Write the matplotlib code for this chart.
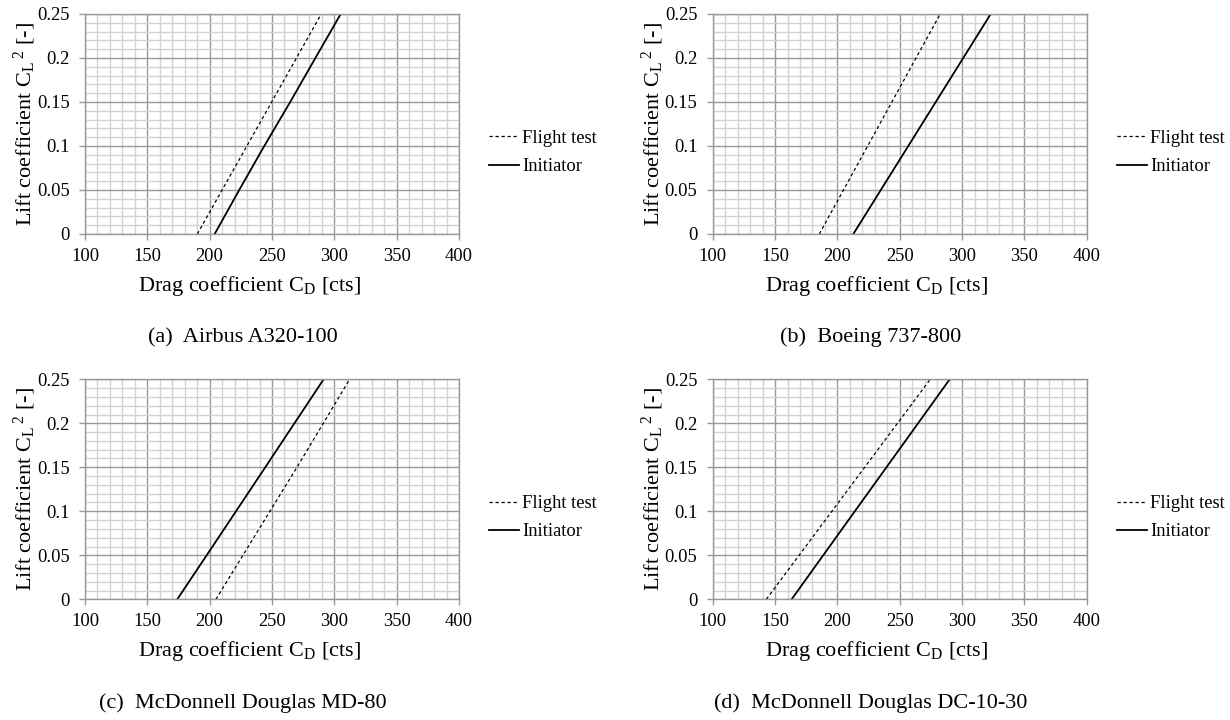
import matplotlib
matplotlib.use("Agg")
import matplotlib.pyplot as plt
from matplotlib.ticker import MultipleLocator, FixedLocator

plt.rcParams['font.family'] = ['Liberation Serif', 'DejaVu Serif']
plt.rcParams['mathtext.fontset'] = 'custom'
plt.rcParams['mathtext.rm'] = 'Liberation Serif'
plt.rcParams['mathtext.it'] = 'Liberation Serif:italic'

# ---- data (CL^2 [-] vs CD [cts]) ----
captions = ["(a)  Airbus A320-100", "(b)  Boeing 737-800",
            "(c)  McDonnell Douglas MD-80", "(d)  McDonnell Douglas DC-10-30"]

a320_flight_cd = [190.1, 289.5]
a320_flight_cl2 = [0.0, 0.25]
a320_init_cd = [204.0, 223.7, 243.8, 264.6, 284.8, 305.1]
a320_init_cl2 = [0.0, 0.05, 0.10, 0.15, 0.20, 0.25]

b737_flight_cd = [185.5, 282.5]
b737_flight_cl2 = [0.0, 0.25]
b737_init_cd = [212.8, 323.0]
b737_init_cl2 = [0.0, 0.25]

md80_flight_cd = [205.0, 270.0, 312.3]
md80_flight_cl2 = [0.0, 0.15, 0.25]
md80_init_cd = [174.0, 197.6, 221.1, 244.6, 268.0, 291.4]
md80_init_cl2 = [0.0, 0.05, 0.10, 0.15, 0.20, 0.25]

dc10_flight_cd = [143.0, 274.5]
dc10_flight_cl2 = [0.0, 0.25]
dc10_init_cd = [163.3, 214.0, 290.1]
dc10_init_cl2 = [0.0, 0.10, 0.25]

x_ticks = [100, 150, 200, 250, 300, 350, 400]
y_ticks = [0, 0.05, 0.1, 0.15, 0.2, 0.25]
y_tick_labels = ["0", "0.05", "0.1", "0.15", "0.2", "0.25"]
series_names = ["Flight test", "Initiator"]

panels = [
    (a320_flight_cd, a320_flight_cl2, a320_init_cd, a320_init_cl2),
    (b737_flight_cd, b737_flight_cl2, b737_init_cd, b737_init_cl2),
    (md80_flight_cd, md80_flight_cl2, md80_init_cd, md80_init_cl2),
    (dc10_flight_cd, dc10_flight_cl2, dc10_init_cd, dc10_init_cl2),
]

W, H = 1230, 720
fig = plt.figure(figsize=(W / 100, H / 100), dpi=100)

col_left = [85.0, 712.7]
row_top = [14.0, 379.3]
ax_w, ax_h = 374.0, 220.0

major_c = '#999999'
minor_c = '#d2d2d2'
tick_fs = 13.3
label_fs = 16

for i, (fcd, fcl, icd, icl) in enumerate(panels):
    r, c = divmod(i, 2)
    L, T = col_left[c], row_top[r]
    ax = fig.add_axes([L / W, 1 - (T + ax_h) / H, ax_w / W, ax_h / H])
    ax.set_xlim(100, 400)
    ax.set_ylim(0, 0.25)
    ax.xaxis.set_major_locator(FixedLocator(x_ticks))
    ax.xaxis.set_minor_locator(MultipleLocator(10))
    ax.yaxis.set_major_locator(FixedLocator(y_ticks))
    ax.yaxis.set_minor_locator(MultipleLocator(0.01))
    ax.set_yticklabels(y_tick_labels)
    ax.grid(which='minor', color=minor_c, lw=1.0)
    ax.grid(which='major', color=major_c, lw=1.0)
    ax.set_axisbelow(True)
    for s in ax.spines.values():
        s.set_color(major_c)
        s.set_linewidth(1.0)
    ax.tick_params(which='minor', length=0)
    ax.tick_params(which='major', length=4, width=1, color=major_c,
                   labelsize=tick_fs, pad=7)
    ax.tick_params(axis='x', which='major', pad=6)

    l1, = ax.plot(fcd, fcl, color='black', lw=0.9, ls=(0, (2.6, 2.2)),
                  label=series_names[0])
    l2, = ax.plot(icd, icl, color='black', lw=1.3, ls='-',
                  label=series_names[1])

    ax.set_ylabel(r'Lift coefficient C$_{\mathrm{L}}\,{}^{\mathrm{2}}$ [-]',
                  fontsize=label_fs)
    ax.yaxis.set_label_coords(-47 / ax_w, 0.5)

    fig.text((L + 164) / W, 1 - (T + 272) / H,
             r'Drag coefficient C$_{\mathrm{D}}$ [cts]', fontsize=label_fs,
             ha='center', va='center')
    fig.text((L + 158) / W, 1 - (T + 323.5) / H, captions[i],
             fontsize=label_fs, ha='center', va='center')

    fig.legend(handles=[l1, l2], loc='center left',
               bbox_to_anchor=((L + 404) / W, 1 - (T + 138.5) / H),
               bbox_transform=fig.transFigure, frameon=False,
               fontsize=tick_fs, handlelength=1.65, handletextpad=0.15,
               borderpad=0, borderaxespad=0, labelspacing=0.6)

fig.savefig("out.png", dpi=100)
